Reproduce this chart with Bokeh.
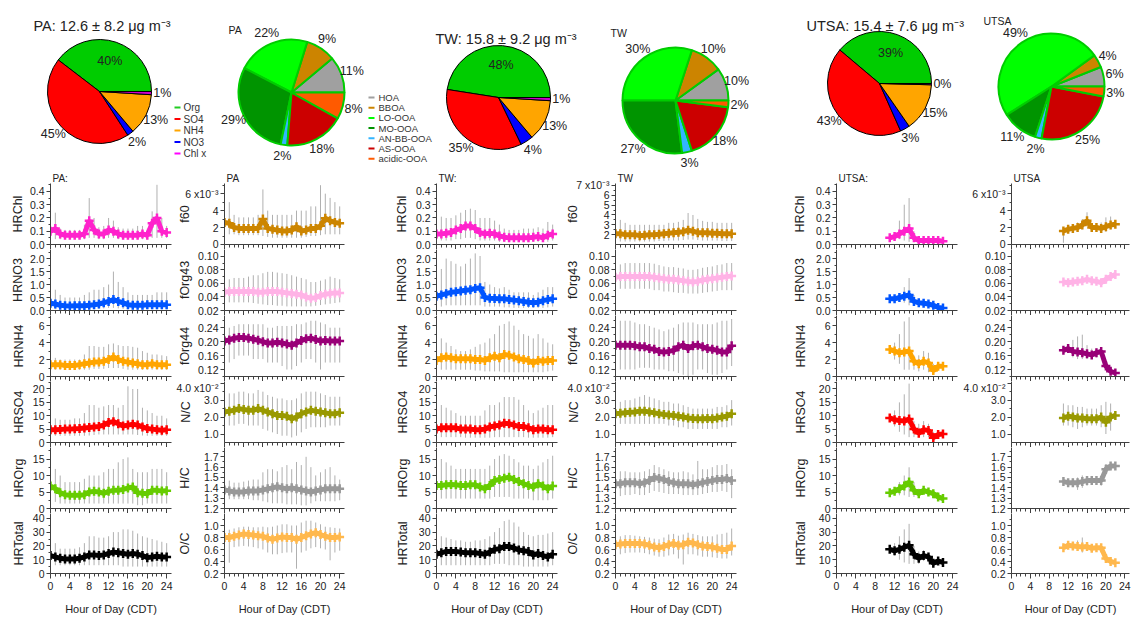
import math
from bokeh.plotting import figure
from bokeh.layouts import column, row
from bokeh.models import Range1d, FixedTicker, CustomJSTickFormatter, ColumnDataSource
from bokeh.embed import file_html
from bokeh.resources import INLINE
from bokeh.core.properties import value

FONT = "Liberation Sans"

# ---------------- pie data ----------------
SITES = ["PA", "TW", "UTSA"]
SITE_MEAN = [12.6, 15.8, 15.4]
SITE_SD = [8.2, 9.2, 7.6]

SPECIES = ["Org", "SO4", "NO3", "NH4", "Chl x"]          # anticlockwise from 3 o'clock
LEGEND_SPECIES = ["Org", "SO4", "NH4", "NO3", "Chl x"]
PA_SPECIES_PCT = [40, 45, 2, 13, 1]
TW_SPECIES_PCT = [48, 35, 4, 13, 1]
UTSA_SPECIES_PCT = [39, 43, 3, 15, 0.4]

FACTORS = ["HOA", "BBOA", "LO-OOA", "MO-OOA", "AN-BB-OOA", "AS-OOA", "acidic-OOA"]
PA_FACTOR_PCT = [11, 9, 22, 29, 2, 18, 8]
TW_FACTOR_PCT = [10, 10, 30, 27, 3, 18, 2]
UTSA_FACTOR_PCT = [6, 4, 49, 11, 2, 25, 3]

# ---------------- diurnal data ----------------
HOURS = list(range(25))
UTSA_HOURS = list(range(11, 23))

PA_HRChl = [0.10,0.12,0.08,0.07,0.07,0.07,0.07,0.08,0.18,0.11,0.08,0.08,0.11,0.10,0.08,0.07,0.07,0.07,0.07,0.08,0.07,0.16,0.20,0.10,0.09]
PA_HRChl_hi = [0.18,0.24,0.12,0.11,0.11,0.11,0.11,0.15,0.35,0.20,0.13,0.14,0.20,0.18,0.13,0.12,0.12,0.12,0.14,0.14,0.12,0.25,0.45,0.20,0.14]
PA_HRChl_lo = [0.05,0.04,0.04,0.04,0.04,0.04,0.04,0.04,0.05,0.05,0.04,0.04,0.05,0.05,0.04,0.04,0.04,0.04,0.04,0.04,0.04,0.05,0.05,0.05,0.05]
PA_HRNO3 = [0.28,0.25,0.20,0.18,0.17,0.18,0.18,0.18,0.20,0.22,0.25,0.30,0.35,0.42,0.35,0.30,0.22,0.20,0.20,0.20,0.22,0.22,0.22,0.22,0.22]
PA_HRNO3_hi = [0.9,0.8,0.6,0.5,0.5,0.5,0.5,0.6,0.7,0.8,0.8,0.9,1.0,1.5,1.1,0.9,0.7,0.6,0.6,0.6,0.6,0.6,0.7,0.7,0.7]
PA_HRNO3_lo = [0.05,0.05,0.05,0.05,0.05,0.05,0.05,0.05,0.05,0.05,0.06,0.08,0.10,0.10,0.08,0.06,0.05,0.05,0.05,0.05,0.05,0.05,0.05,0.05,0.05]
PA_HRNH4 = [1.4,1.4,1.4,1.3,1.3,1.3,1.4,1.5,1.6,1.7,1.7,1.8,2.0,2.3,2.0,1.8,1.7,1.6,1.5,1.4,1.4,1.5,1.4,1.4,1.4]
PA_HRNH4_hi = [2.0,2.2,2.0,2.0,2.0,2.0,2.0,2.6,3.6,3.6,3.5,3.5,3.8,3.9,3.7,3.6,3.6,3.5,3.4,3.0,2.8,2.6,2.6,2.5,2.4]
PA_HRNH4_lo = [0.8,0.8,0.8,0.8,0.8,0.8,0.8,0.8,0.8,0.9,0.9,0.9,1.0,1.0,1.0,0.9,0.8,0.8,0.8,0.8,0.8,0.8,0.8,0.8,0.8]
PA_HRSO4 = [4.8,4.8,4.9,5.0,5.0,5.1,5.2,5.4,5.6,5.8,6.0,6.5,7.5,7.8,7.0,6.2,6.5,6.8,6.5,5.8,5.2,5.0,4.8,4.6,4.8]
PA_HRSO4_hi = [9,9,8.5,8.5,8.5,9,9,11,14,14,13,13.5,14,14,13,14,21,20,20,13,12,11,10,10,9]
PA_HRSO4_lo = [2.5,2.5,2.5,2.5,2.5,2.5,2.5,2.5,2.6,2.8,3,3,3,3,3,3,3,3,2.8,2.6,2.5,2.5,2.5,2.5,2.5]
PA_HROrg = [6.8,6.0,4.8,4.2,4.0,4.0,4.0,4.2,5.0,5.2,5.0,4.6,5.2,5.5,5.5,5.8,6.2,6.5,4.8,4.6,4.5,5.5,5.5,5.3,5.4]
PA_HROrg_hi = [15,12,10,8,8,8,8,9,10,10,10,11,12,12,14,15,15.5,12,11,11,11,12,12,12,11]
PA_HROrg_lo = [2,2,1.5,1.5,1.5,1.5,1.5,1.5,1.5,1.5,1.5,1.5,1.5,1.5,1.5,1.5,1.5,1.5,1,1,1.5,1.5,1.5,1.5,1.5]
PA_HRTotal = [13,12,11,10.5,10.5,10.5,11,12,13.5,13.5,13,13.5,14.5,15.5,15,14.5,14,14.5,14,13,11.5,12,12.5,12,12]
PA_HRTotal_hi = [22,22,18,18,18,18,19,22,27,27,26,26,27,30,30,32,32,31,29,27,26,25,24,23,22]
PA_HRTotal_lo = [6,6,6,6,6,6,6,6,6,6,6,6,6,6,6,5,5,5,5,5,5,5,5,5,5]
PA_f60 = [2.6,2.5,2.0,1.9,1.9,1.9,1.9,1.9,3.0,1.9,1.8,1.7,1.6,1.6,1.7,2.1,1.6,1.7,1.9,1.9,2.2,3.1,2.8,2.6,2.5]
PA_f60_hi = [6,5,3.5,3.2,3.2,3.2,3.2,3.5,6.5,4,3.5,3.5,3.5,3.5,3.5,4,4,4,4.5,4.5,7,6,5.5,5,4.5]
PA_f60_lo = [1.2,1.2,1.2,1.1,1.1,1.1,1.1,1.1,1.0,0.9,0.8,0.8,0.8,0.8,0.8,0.8,0.8,0.9,1.0,1.0,1.1,1.2,1.2,1.2,1.2]
PA_fOrg43 = [0.047,0.048,0.048,0.048,0.048,0.048,0.048,0.047,0.047,0.048,0.048,0.048,0.047,0.046,0.045,0.044,0.043,0.040,0.038,0.039,0.042,0.044,0.045,0.046,0.046]
PA_fOrg43_hi = [0.065,0.066,0.068,0.068,0.068,0.070,0.072,0.072,0.075,0.077,0.077,0.076,0.075,0.074,0.072,0.070,0.068,0.066,0.062,0.062,0.064,0.066,0.070,0.068,0.066]
PA_fOrg43_lo = [0.032,0.032,0.032,0.032,0.032,0.032,0.031,0.030,0.029,0.028,0.028,0.027,0.027,0.026,0.026,0.026,0.026,0.026,0.026,0.027,0.028,0.029,0.030,0.031,0.032]
PA_fOrg44 = [0.202,0.205,0.210,0.212,0.212,0.210,0.207,0.204,0.200,0.196,0.196,0.198,0.196,0.193,0.190,0.196,0.203,0.208,0.210,0.206,0.202,0.203,0.202,0.202,0.202]
PA_fOrg44_hi = [0.25,0.24,0.245,0.25,0.25,0.25,0.25,0.25,0.25,0.24,0.24,0.245,0.245,0.245,0.245,0.25,0.25,0.255,0.26,0.26,0.255,0.25,0.24,0.24,0.24]
PA_fOrg44_lo = [0.13,0.14,0.15,0.16,0.16,0.16,0.15,0.15,0.15,0.14,0.14,0.14,0.13,0.12,0.12,0.13,0.14,0.15,0.15,0.14,0.12,0.14,0.14,0.14,0.14]
PA_NC = [2.3,2.35,2.4,2.5,2.45,2.4,2.4,2.5,2.4,2.3,2.2,2.1,2.1,2.05,1.9,2.0,2.2,2.3,2.4,2.35,2.3,2.25,2.2,2.2,2.25]
PA_NC_hi = [3.3,3.4,3.4,3.5,3.5,3.4,3.4,3.6,3.5,3.3,3.2,3.1,3.1,3.0,3.0,3.1,3.4,3.5,3.5,3.5,3.4,3.3,3.2,3.2,3.2]
PA_NC_lo = [1.4,1.5,1.5,1.6,1.6,1.5,1.5,1.5,1.3,1.2,1.1,1.0,0.9,0.9,0.8,0.9,1.1,1.3,1.4,1.4,1.4,1.4,1.5,1.5,1.5]
PA_HC = [1.38,1.37,1.36,1.36,1.36,1.37,1.37,1.37,1.38,1.39,1.40,1.41,1.40,1.39,1.40,1.39,1.38,1.37,1.36,1.37,1.38,1.39,1.39,1.39,1.39]
PA_HC_hi = [1.48,1.47,1.45,1.45,1.46,1.47,1.48,1.48,1.55,1.58,1.58,1.56,1.60,1.62,1.58,1.65,1.62,1.70,1.60,1.52,1.55,1.58,1.60,1.52,1.48]
PA_HC_lo = [1.28,1.29,1.29,1.29,1.29,1.29,1.28,1.28,1.27,1.26,1.25,1.25,1.25,1.24,1.24,1.24,1.23,1.23,1.25,1.27,1.27,1.27,1.27,1.27,1.28]
PA_OC = [0.80,0.80,0.82,0.84,0.86,0.85,0.84,0.83,0.82,0.79,0.77,0.79,0.81,0.80,0.80,0.77,0.80,0.83,0.86,0.88,0.85,0.82,0.80,0.80,0.81]
PA_OC_hi = [0.95,0.93,0.95,0.97,0.98,0.98,0.97,0.97,0.98,0.97,0.98,1.00,1.02,1.02,1.00,1.00,1.05,1.08,1.08,1.05,1.02,0.98,0.97,0.96,0.95]
PA_OC_lo = [0.62,0.38,0.64,0.65,0.66,0.65,0.64,0.62,0.60,0.55,0.52,0.52,0.54,0.55,0.55,0.28,0.55,0.58,0.62,0.64,0.62,0.60,0.42,0.55,0.58]

TW_HRChl = [0.08,0.08,0.085,0.09,0.11,0.12,0.14,0.14,0.12,0.09,0.08,0.085,0.08,0.065,0.055,0.05,0.05,0.05,0.05,0.05,0.055,0.06,0.05,0.07,0.08]
TW_HRChl_hi = [0.20,0.21,0.20,0.20,0.22,0.24,0.26,0.27,0.26,0.20,0.20,0.20,0.18,0.15,0.12,0.11,0.11,0.11,0.12,0.12,0.12,0.13,0.12,0.17,0.15]
TW_HRChl_lo = [0.03,0.03,0.03,0.03,0.04,0.04,0.05,0.05,0.04,0.03,0.03,0.03,0.03,0.02,0.02,0.02,0.02,0.02,0.02,0.02,0.02,0.02,0.02,0.02,0.03]
TW_HRNO3 = [0.55,0.60,0.65,0.70,0.72,0.75,0.78,0.80,0.85,0.88,0.50,0.47,0.46,0.45,0.45,0.42,0.40,0.38,0.35,0.32,0.30,0.32,0.38,0.42,0.45]
TW_HRNO3_hi = [1.3,1.6,2.0,1.9,1.8,1.7,1.8,2.0,2.2,2.1,1.1,1.0,0.9,0.85,0.9,0.8,0.7,0.7,0.7,0.7,0.6,0.7,0.8,0.9,0.9]
TW_HRNO3_lo = [0.15,0.15,0.2,0.2,0.2,0.2,0.2,0.2,0.2,0.2,0.15,0.15,0.15,0.15,0.12,0.12,0.1,0.1,0.1,0.1,0.1,0.1,0.1,0.12,0.15]
TW_HRNH4 = [1.9,2.2,2.3,2.2,2.1,2.1,2.1,2.1,2.0,2.0,1.9,2.2,2.4,2.2,2.6,2.5,2.3,2.1,2.0,1.9,1.6,1.9,1.8,1.9,1.9]
TW_HRNH4_hi = [3.8,4.5,4.0,3.6,3.2,3.0,3.0,3.2,3.5,3.8,4.0,4.5,5.0,6.0,6.2,6.5,6.0,5.5,5.0,4.8,4.5,5.0,4.5,4.0,3.8]
TW_HRNH4_lo = [0.8,0.8,0.8,0.8,0.8,0.8,0.8,0.8,0.7,0.7,0.6,0.6,0.6,0.6,0.5,0.5,0.5,0.5,0.5,0.5,0.5,0.5,0.5,0.6,0.7]
TW_HRSO4 = [5.0,5.5,5.5,5.5,5.5,5.0,5.0,5.0,4.8,4.8,5.0,5.8,6.2,6.5,7.2,7.0,6.5,6.0,6.0,5.5,4.8,5.0,5.0,4.8,4.8]
TW_HRSO4_hi = [12,14,13,12,11,10,10,10,10,10,12,14,14,15,17,17,17,16,14,12,11,12,13,14,14]
TW_HRSO4_lo = [2,2,2,2,2,2,1.8,1.8,1.8,1.8,1.8,1.8,2,2,2,2,2,2,2,1.8,1.8,1.8,1.8,1.8,2]
TW_HROrg = [7.0,7.0,7.2,7.3,7.2,7.0,7.0,7.2,7.2,6.5,6.0,7.0,8.5,8.8,9.2,9.5,8.8,8.2,7.5,7.0,6.5,7.5,6.8,6.0,6.8]
TW_HROrg_hi = [14,15,14,13,12,12,12,12,12,12,12,13,15,16,16.5,16,15,14,13,13,12,13,14,15,16]
TW_HROrg_lo = [3,3,3,3,3,3,3,3,3,3,3,3,3.5,3.5,3.5,3.5,3,3,3,3,2.5,2.5,2.5,2.5,3]
TW_HRTotal = [14,15,16,16,16,15.5,15,15,15,14.5,14,15.5,17.5,18,19.5,19.5,18.5,17,16.5,16,13.5,14.5,13,12,14]
TW_HRTotal_hi = [28,27,26,25,24,24,23,23,24,24,25,27,30,33,38,39,37,34,30,28,27,28,28,29,30]
TW_HRTotal_lo = [6,6,6,6,6,6,6,6,6,6,6,6,7,7,7,6,6,6,5,5,5,5,5,5,6]
TW_f60 = [2.1,2.1,2.0,2.0,2.0,1.9,1.95,2.0,2.0,2.05,2.1,2.15,2.2,2.25,2.3,2.45,2.35,2.2,2.2,2.2,2.15,2.15,2.1,2.1,2.1]
TW_f60_hi = [3.4,3.5,3.2,3.0,3.0,3.0,3.0,3.0,3.0,3.0,3.0,3.2,3.2,3.3,3.5,4.2,4.0,3.6,3.4,3.3,3.3,3.2,3.2,3.2,3.2]
TW_f60_lo = [1.3,1.3,1.3,1.3,1.3,1.3,1.3,1.3,1.3,1.35,1.35,1.4,1.4,1.4,1.45,1.5,1.5,1.45,1.4,1.4,1.4,1.4,1.35,1.35,1.35]
TW_fOrg43 = [0.069,0.070,0.070,0.070,0.070,0.070,0.070,0.070,0.069,0.068,0.067,0.066,0.066,0.065,0.064,0.063,0.062,0.063,0.065,0.066,0.067,0.068,0.069,0.070,0.071]
TW_fOrg43_hi = [0.085,0.088,0.090,0.090,0.090,0.090,0.090,0.090,0.089,0.087,0.085,0.084,0.084,0.083,0.082,0.080,0.080,0.081,0.083,0.084,0.085,0.087,0.088,0.090,0.090]
TW_fOrg43_lo = [0.050,0.052,0.052,0.052,0.052,0.052,0.052,0.052,0.050,0.050,0.048,0.048,0.047,0.046,0.046,0.045,0.045,0.045,0.046,0.047,0.048,0.049,0.050,0.050,0.050]
TW_fOrg44 = [0.190,0.190,0.190,0.190,0.188,0.185,0.185,0.180,0.178,0.172,0.170,0.172,0.175,0.185,0.190,0.180,0.188,0.190,0.185,0.180,0.178,0.175,0.170,0.170,0.188]
TW_fOrg44_hi = [0.26,0.26,0.26,0.26,0.255,0.25,0.25,0.245,0.24,0.235,0.23,0.235,0.24,0.25,0.255,0.255,0.255,0.25,0.25,0.25,0.25,0.255,0.26,0.26,0.265]
TW_fOrg44_lo = [0.12,0.12,0.12,0.12,0.12,0.125,0.125,0.125,0.12,0.12,0.12,0.115,0.115,0.11,0.105,0.10,0.105,0.12,0.12,0.11,0.105,0.105,0.11,0.12,0.13]
TW_NC = [2.2,2.22,2.25,2.28,2.3,2.35,2.35,2.3,2.25,2.2,2.15,2.12,2.1,2.05,2.0,1.95,1.92,1.9,1.9,1.92,1.9,1.95,2.0,2.05,2.2]
TW_NC_hi = [2.8,2.9,3.0,3.0,3.1,3.2,3.3,3.2,3.1,3.0,2.9,2.9,2.8,2.8,2.7,2.6,2.5,2.5,2.5,2.5,2.5,2.6,2.6,2.7,3.0]
TW_NC_lo = [1.6,1.6,1.6,1.6,1.6,1.6,1.6,1.6,1.6,1.6,1.6,1.5,1.5,1.4,1.4,1.3,1.3,1.3,1.3,1.3,1.3,1.3,1.4,1.4,1.5]
TW_HC = [1.44,1.44,1.45,1.45,1.45,1.44,1.45,1.47,1.50,1.49,1.48,1.46,1.45,1.44,1.44,1.44,1.43,1.44,1.45,1.46,1.47,1.48,1.48,1.49,1.47]
TW_HC_hi = [1.55,1.56,1.56,1.55,1.55,1.55,1.56,1.58,1.62,1.60,1.58,1.56,1.55,1.55,1.56,1.55,1.53,1.66,1.58,1.58,1.60,1.62,1.62,1.63,1.58]
TW_HC_lo = [1.32,1.32,1.33,1.33,1.34,1.33,1.33,1.35,1.37,1.36,1.35,1.34,1.34,1.34,1.33,1.33,1.33,1.33,1.34,1.35,1.36,1.36,1.37,1.36,1.30]
TW_OC = [0.68,0.69,0.70,0.70,0.70,0.70,0.69,0.67,0.64,0.63,0.65,0.68,0.70,0.67,0.68,0.72,0.71,0.68,0.66,0.65,0.64,0.62,0.60,0.60,0.66]
TW_OC_hi = [0.82,0.82,0.84,0.84,0.83,0.82,0.81,0.80,0.78,0.77,0.80,0.85,0.86,0.83,0.85,0.88,0.86,0.84,0.82,0.82,0.82,0.85,0.86,0.88,0.95]
TW_OC_lo = [0.50,0.52,0.54,0.55,0.55,0.55,0.54,0.52,0.50,0.48,0.48,0.50,0.52,0.45,0.35,0.52,0.52,0.50,0.48,0.48,0.47,0.46,0.45,0.45,0.50]

UTSA_HRChl = [0.05,0.06,0.08,0.10,0.12,0.05,0.03,0.03,0.03,0.03,0.03,0.025]
UTSA_HRChl_hi = [0.07,0.09,0.18,0.30,0.35,0.10,0.05,0.05,0.05,0.04,0.04,0.03]
UTSA_HRChl_lo = [0.04,0.04,0.04,0.03,0.02,0.02,0.02,0.02,0.02,0.02,0.02,0.02]
UTSA_HRNO3 = [0.45,0.45,0.50,0.55,0.60,0.35,0.30,0.28,0.25,0.20,0.12,0.10]
UTSA_HRNO3_hi = [0.50,0.50,0.60,0.90,1.25,0.60,0.40,0.35,0.30,0.25,0.15,0.12]
UTSA_HRNO3_lo = [0.40,0.40,0.40,0.30,0.20,0.20,0.20,0.20,0.15,0.10,0.08,0.08]
UTSA_HRNH4 = [3.2,3.0,2.8,2.9,3.0,1.8,1.5,1.8,1.6,0.7,1.2,1.2]
UTSA_HRNH4_hi = [3.5,4.0,5.0,6.5,7.0,2.5,2.5,3.0,2.8,1.5,1.5,1.4]
UTSA_HRNH4_lo = [2.8,2.0,1.5,0.8,0.8,0.8,0.6,0.8,0.5,0.3,0.8,1.0]
UTSA_HRSO4 = [9.2,8.5,8.2,8.0,8.8,5.0,3.5,4.8,4.5,1.8,3.0,3.2]
UTSA_HRSO4_hi = [10,12,15,18,22,8,7,8,7,4,4,4]
UTSA_HRSO4_lo = [8,6,4,3,2,2,2,2,2,1,2,2.5]
UTSA_HROrg = [4.8,5.2,6.0,6.8,8.0,5.5,4.5,5.5,5.0,4.5,3.5,3.0]
UTSA_HROrg_hi = [5.5,6.5,8,10,12.5,8,6,6.5,6,5.5,4,3.5]
UTSA_HROrg_lo = [4,4.5,4,4,3.5,3.5,3.5,4.5,4,3.5,3,2.5]
UTSA_HRTotal = [17.5,16.5,17.5,19,20.5,14,11,13,12,7.5,9,8]
UTSA_HRTotal_hi = [19,22,27,32,36,20,16,17,15,10,10,9]
UTSA_HRTotal_lo = [15,13,10,8,7,7,7,9,8,5,7,7]
UTSA_f60 = [1.6,1.8,1.9,2.0,2.3,2.8,2.0,2.0,1.9,2.1,2.3,2.4]
UTSA_f60_hi = [2.0,2.2,2.4,2.6,3.0,3.8,2.5,2.5,2.6,3.2,3.3,2.8]
UTSA_f60_lo = [0.2,1.4,1.5,1.6,1.8,2.2,1.6,1.6,1.4,1.5,1.8,2.0]
UTSA_fOrg43 = [0.062,0.061,0.062,0.063,0.064,0.066,0.064,0.063,0.061,0.066,0.070,0.073]
UTSA_fOrg43_hi = [0.065,0.064,0.067,0.068,0.070,0.070,0.068,0.066,0.064,0.070,0.075,0.076]
UTSA_fOrg43_lo = [0.058,0.058,0.058,0.060,0.060,0.062,0.060,0.060,0.058,0.062,0.066,0.070]
UTSA_fOrg44 = [0.175,0.180,0.172,0.170,0.168,0.165,0.162,0.168,0.172,0.130,0.115,0.110]
UTSA_fOrg44_hi = [0.18,0.19,0.205,0.215,0.22,0.19,0.18,0.18,0.18,0.14,0.12,0.115]
UTSA_fOrg44_lo = [0.17,0.17,0.155,0.15,0.15,0.15,0.15,0.155,0.16,0.12,0.105,0.105]
UTSA_NC = [1.95,2.05,2.0,1.95,1.95,1.9,1.9,1.9,2.0,1.7,2.0,2.1]
UTSA_NC_hi = [2.8,2.7,2.7,2.6,2.6,2.5,2.5,2.5,2.7,2.9,2.8,2.3]
UTSA_NC_lo = [1.5,1.5,1.4,1.3,1.4,1.5,1.5,1.5,1.4,1.0,1.2,1.9]
UTSA_HC = [1.46,1.45,1.45,1.45,1.46,1.47,1.47,1.47,1.47,1.58,1.61,1.61]
UTSA_HC_hi = [1.49,1.48,1.49,1.50,1.52,1.51,1.50,1.51,1.52,1.63,1.64,1.62]
UTSA_HC_lo = [1.43,1.42,1.41,1.38,1.40,1.42,1.43,1.43,1.42,1.54,1.58,1.60]
UTSA_OC = [0.63,0.67,0.66,0.65,0.64,0.65,0.62,0.63,0.63,0.45,0.40,0.38]
UTSA_OC_hi = [0.68,0.71,0.72,0.75,0.80,0.72,0.68,0.68,0.68,0.50,0.44,0.40]
UTSA_OC_lo = [0.60,0.62,0.60,0.58,0.55,0.58,0.58,0.58,0.58,0.40,0.37,0.36]

CONC_VARS = ["HRChl", "HRNO3", "HRNH4", "HRSO4", "HROrg", "HRTotal"]
RATIO_VARS = ["f60", "fOrg43", "fOrg44", "N/C", "H/C", "O/C"]

# ---------------- styles ----------------
SPECIES_COLORS = {"Org": "#00CC00", "SO4": "#FF0000", "NO3": "#0000FF", "NH4": "#FFA500", "Chl x": "#CC00CC"}
LEGEND_COLORS = {"Org": "#22CC22", "SO4": "#FF0000", "NH4": "#FFA500", "NO3": "#0000FF", "Chl x": "#FF00FF"}
FACTOR_COLORS = ["#A0A0A0", "#CC8400", "#00FF00", "#009400", "#33B5FF", "#CC0000", "#FF5A00"]
VAR_COLORS = {"HRChl": "#FF22CC", "HRNO3": "#0055FF", "HRNH4": "#FFA500", "HRSO4": "#FF0000",
              "HROrg": "#66CC00", "HRTotal": "#000000", "f60": "#CC8500", "fOrg43": "#FFB3E6",
              "fOrg44": "#990077", "N/C": "#999900", "H/C": "#999999", "O/C": "#FFB84D"}
AXIS = {
    "HRChl": ((0, 0.46), [0, 0.1, 0.2, 0.3, 0.4], [0.05, 0.15, 0.25, 0.35, 0.45], 1, None, ""),
    "HRNO3": ((0, 2.35), [0, 0.5, 1.0, 1.5, 2.0], [0.25, 0.75, 1.25, 1.75, 2.25], 1, None, ""),
    "HRNH4": ((0, 7.2), [0, 2, 4, 6], [1, 3, 5, 7], 0, None, ""),
    "HRSO4": ((0, 22.8), [0, 5, 10, 15, 20], [2.5, 7.5, 12.5, 17.5, 22.5], 0, None, ""),
    "HROrg": ((0, 18.5), [0, 5, 10, 15], [2.5, 7.5, 12.5, 17.5], 0, None, ""),
    "HRTotal": ((0, 43.5), [0, 10, 20, 30, 40], [5, 15, 25, 35], 0, None, ""),
    "f60": ((0, 7.2), [0, 2, 4, 6], [1, 3, 5, 7], 0, 6, "\u207b\u00b3"),
    "fOrg43": ((0.02, 0.11), [0.02, 0.04, 0.06, 0.08, 0.10], [0.03, 0.05, 0.07, 0.09], 2, None, ""),
    "fOrg44": ((0.10, 0.275), [0.12, 0.16, 0.20, 0.24], [0.10, 0.14, 0.18, 0.22, 0.26], 2, None, ""),
    "N/C": ((0.5, 4.1), [1.0, 2.0, 3.0, 4.0], [1.5, 2.5, 3.5], 1, 4.0, "\u207b\u00b2"),
    "H/C": ((1.2, 1.79), [1.2, 1.3, 1.4, 1.5, 1.6, 1.7], [1.25, 1.35, 1.45, 1.55, 1.65, 1.75], 1, None, ""),
    "O/C": ((0.2, 1.2), [0.2, 0.4, 0.6, 0.8, 1.0], [0.3, 0.5, 0.7, 0.9, 1.1], 1, None, ""),
}
AXIS_TW_F60 = ((1.0, 7.2), [2, 3, 4, 5, 6, 7], [2.5, 3.5, 4.5, 5.5, 6.5], 0, 7, "\u207b\u00b3")

SERIES = {}
for site in SITES:
    g = globals()
    for var in CONC_VARS + RATIO_VARS:
        key = var.replace("/", "")
        SERIES[(site, var)] = (g[f"{site}_{key}"], g[f"{site}_{key}_hi"], g[f"{site}_{key}_lo"])

# ---------------- pie row ----------------
PIE_H = 170
pie = figure(width=1131, height=PIE_H, x_range=Range1d(0, 1131), y_range=Range1d(-PIE_H, 0),
             x_axis_type=None, y_axis_type=None, toolbar_location=None, output_backend="svg",
             min_border=0, outline_line_color=None)

MAIN_CENTERS = [(99, 91), (498, 97), (879, 83)]
PMF_CENTERS = [(291, 92), (675, 100), (1051, 86)]
TITLE_POS = [(33, 25), (435, 38), (806, 25)]
SUB_POS = [(228, 29), (610, 32), (983, 20)]
R_MAIN, R_PMF = 52, 53


def draw_pie(cx, cy, r, vals, colors, lc, lw, inside_first):
    tot = float(sum(vals))
    starts, ends, a = [], [], 0.0
    for v in vals:
        starts.append(a)
        a += v / tot * 2 * math.pi
        ends.append(a)
    src = ColumnDataSource(dict(s=starts, e=ends, c=colors))
    pie.wedge(x=cx, y=-cy, radius=r, radius_units="screen", start_angle="s", end_angle="e",
              fill_color="c", line_color=lc, line_width=lw, source=src)
    lx, ly, lt = [], [], []
    for i, v in enumerate(vals):
        mid = (starts[i] + ends[i]) / 2
        f = 0.62 if (inside_first and i == 0) else 1.21
        lx.append(cx + f * r * math.cos(mid))
        ly.append(-cy + f * r * math.sin(mid))
        lt.append(f"{round(v)}%")
    pie.text(x=lx, y=ly, text=lt, text_font=value(FONT), text_font_size=value("12.5px"),
             text_align="center", text_baseline="middle", text_color="#222222")


main_pcts = [PA_SPECIES_PCT, TW_SPECIES_PCT, UTSA_SPECIES_PCT]
pmf_pcts = [PA_FACTOR_PCT, TW_FACTOR_PCT, UTSA_FACTOR_PCT]
for i, site in enumerate(SITES):
    cx, cy = MAIN_CENTERS[i]
    draw_pie(cx, cy, R_MAIN, main_pcts[i], [SPECIES_COLORS[s] for s in SPECIES], "#000000", 1, True)
    cx, cy = PMF_CENTERS[i]
    draw_pie(cx, cy, R_PMF, pmf_pcts[i], FACTOR_COLORS, "#00CC00", 2, False)
    tx, ty = TITLE_POS[i]
    pie.text(x=[tx], y=[-ty], text=[f"{site}: {SITE_MEAN[i]} \u00b1 {SITE_SD[i]}  \u03bcg m\u207b\u00b3"],
             text_font=value(FONT), text_font_size=value("14.5px"), text_align="left",
             text_baseline="middle", text_color="#222222")
    sx, sy = SUB_POS[i]
    pie.text(x=[sx], y=[-sy], text=[site], text_font=value(FONT), text_font_size=value("10.5px"),
             text_align="left", text_baseline="middle", text_color="#222222")

# legends
L1X, L1Y, L1S = 174, 107, 11.5
pie.segment(x0=[L1X] * 5, x1=[L1X + 6] * 5, y0=[-(L1Y + k * L1S) for k in range(5)],
            y1=[-(L1Y + k * L1S) for k in range(5)], line_color=[LEGEND_COLORS[s] for s in LEGEND_SPECIES],
            line_width=2)
pie.text(x=[L1X + 9] * 5, y=[-(L1Y + k * L1S) for k in range(5)], text=LEGEND_SPECIES,
         text_font=value(FONT), text_font_size=value("10px"), text_baseline="middle", text_color="#333333")
L2X, L2Y, L2S = 368, 97, 10.2
n = len(FACTORS)
pie.segment(x0=[L2X] * n, x1=[L2X + 6] * n, y0=[-(L2Y + k * L2S) for k in range(n)],
            y1=[-(L2Y + k * L2S) for k in range(n)], line_color=FACTOR_COLORS, line_width=2)
pie.text(x=[L2X + 10] * n, y=[-(L2Y + k * L2S) for k in range(n)], text=FACTORS,
         text_font=value(FONT), text_font_size=value("9.5px"), text_baseline="middle", text_color="#333333")

# ---------------- panels ----------------
COL_W = [174, 206, 180, 200, 200, 171]
COL_L = [50, 49, 56, 55, 76, 48]
FRAME_W = 121
ROW_H = [79, 66, 66, 66, 66, 104]
ROW_T = [13, 0, 0, 0, 0, 0]
ROW_B = [5, 5, 5, 5, 5, 43]
YLAB_D = [29, 36, 31, 39, 33, None]     # distance of y-title centre from the axis line
YLAB_PX = 12.5
TOP_TITLES = ["PA:", "PA", "TW:", "TW", "UTSA:", "UTSA"]
AX_COLOR = "#404040"
TICK_PX = 10.5
CHAR_EM = {".": 0.278, " ": 0.278, "x": 0.5, "\u207b": 0.36, "\u00b2": 0.333, "\u00b3": 0.333}


def label_text(t, dec, top, sup):
    s = f"{t:.{dec}f}"
    if top is not None and abs(t - top) < 1e-9:
        s += " x10" + sup
    return s


def text_px(s):
    return sum(CHAR_EM.get(ch, 0.556) for ch in s) * TICK_PX


def make_fmt(dec, top, sup):
    return CustomJSTickFormatter(args=dict(dec=dec, top=(top if top is not None else -999.0), sup=sup),
                                 code="""
        const s = tick.toFixed(dec);
        if (Math.abs(tick - top) < 1e-9) { return s + " x10" + sup; }
        return s;
    """)


BLANK_FMT = CustomJSTickFormatter(code="return '';")


def make_panel(ci, ri, site, var):
    W, L = COL_W[ci], COL_L[ci]
    spec = AXIS_TW_F60 if (site == "TW" and var == "f60") else AXIS[var]
    rng, ticks, minor, dec, top, sup = spec
    p = figure(width=W, height=ROW_H[ri], x_range=Range1d(0, 25), y_range=Range1d(*rng),
               output_backend="svg", toolbar_location=None,
               min_border_left=L, min_border_right=W - L - FRAME_W,
               min_border_top=ROW_T[ri], min_border_bottom=ROW_B[ri], outline_line_color=None)
    p.xgrid.visible = False
    p.ygrid.visible = False
    hrs = UTSA_HOURS if site == "UTSA" else HOURS
    mean, hi, lo = SERIES[(site, var)]
    col = VAR_COLORS[var]
    p.segment(x0=hrs, y0=lo, x1=hrs, y1=hi, line_color="#B0B0B0", line_width=1)
    p.line(hrs, mean, line_color=col, line_width=5)
    p.scatter(hrs, mean, marker="cross", size=9, line_width=2.5, line_color=col)

    ya = p.yaxis[0]
    ya.ticker = FixedTicker(ticks=ticks, minor_ticks=minor)
    ya.formatter = make_fmt(dec, top, sup)
    ya.major_label_text_font = FONT
    ya.major_label_text_font_size = f"{TICK_PX}px"
    ya.major_label_text_color = "#222222"
    ya.major_label_standoff = 2
    ya.major_tick_out, ya.major_tick_in = 4, 0
    ya.minor_tick_out, ya.minor_tick_in = 2, 0
    ya.axis_line_color = AX_COLOR
    ya.major_tick_line_color = AX_COLOR
    ya.minor_tick_line_color = AX_COLOR
    if YLAB_D[ci] is not None:
        wmax = max(text_px(label_text(t, dec, top, sup)) for t in ticks)
        ya.axis_label = var
        ya.axis_label_text_font = FONT
        ya.axis_label_text_font_size = f"{YLAB_PX}px"
        ya.axis_label_text_font_style = "normal"
        ya.axis_label_text_color = "#222222"
        ya.axis_label_standoff = int(round(YLAB_D[ci] - YLAB_PX * 0.55 - 4 - 2 - wmax))

    xa = p.xaxis[0]
    xa.ticker = FixedTicker(ticks=[0, 4, 8, 12, 16, 20, 24], minor_ticks=list(range(25)))
    xa.major_tick_out, xa.major_tick_in = 5, 0
    xa.minor_tick_out, xa.minor_tick_in = 3, 0
    xa.axis_line_color = AX_COLOR
    xa.major_tick_line_color = AX_COLOR
    xa.minor_tick_line_color = AX_COLOR
    if ri == 5:
        xa.major_label_text_font = FONT
        xa.major_label_text_font_size = f"{TICK_PX}px"
        xa.major_label_text_color = "#222222"
        xa.major_label_standoff = 3
        xa.axis_label = "Hour of Day (CDT)"
        xa.axis_label_text_font = FONT
        xa.axis_label_text_font_size = "11px"
        xa.axis_label_text_font_style = "normal"
        xa.axis_label_text_color = "#222222"
        xa.axis_label_standoff = 10
    else:
        xa.formatter = BLANK_FMT
        xa.major_label_text_font_size = "1px"
        xa.major_label_standoff = 0

    if ri == 0:
        p.title.text = TOP_TITLES[ci]
        p.title.align = "left"
        p.title.offset = 2
        p.title.standoff = 0
        p.title.text_font = FONT
        p.title.text_font_size = "10px"
        p.title.text_font_style = "normal"
        p.title.text_color = "#222222"
    return p


cols = []
for ci in range(6):
    site = SITES[ci // 2]
    vars_ = CONC_VARS if ci % 2 == 0 else RATIO_VARS
    cols.append(column([make_panel(ci, ri, site, v) for ri, v in enumerate(vars_)], spacing=0))

layout = column([pie, row(cols, spacing=0)], spacing=0)

with open("out.html", "w") as fh:
    fh.write(file_html(layout, INLINE, title="Diurnal profiles"))
